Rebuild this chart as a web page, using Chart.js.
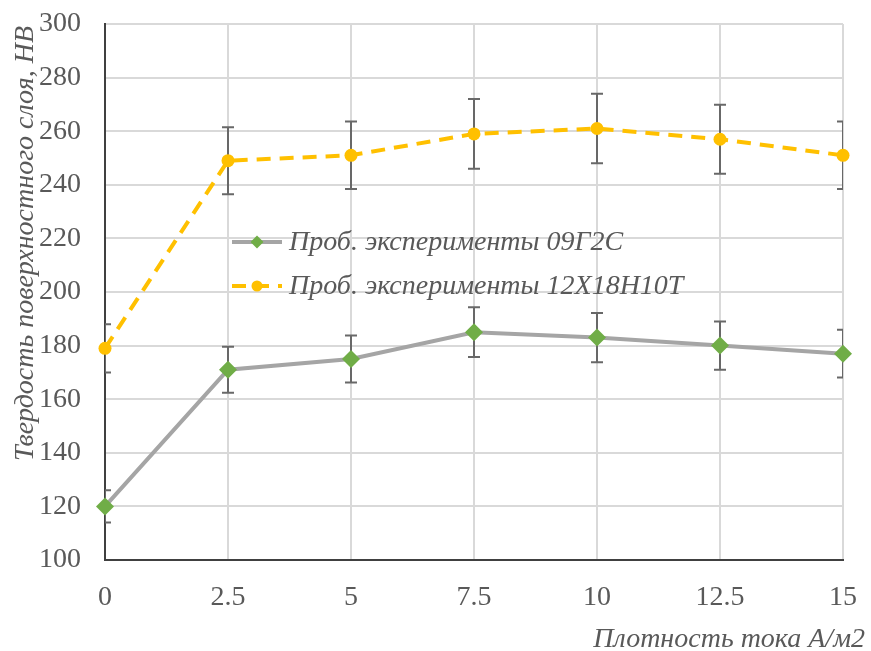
<!DOCTYPE html>
<html><head><meta charset="utf-8">
<script src="https://cdn.jsdelivr.net/npm/chart.js@4"></script>
<style>html,body{margin:0;padding:0;background:#fff;}#wrap{width:871px;height:651px;}</style>
</head><body><div id="wrap"><canvas id="c" width="871" height="651"></canvas></div>
<script>
const xValues = [0, 2.5, 5, 7.5, 10, 12.5, 15];
const steel09G2S = [120, 171, 175, 185, 183, 180, 177];
const steel12X18 = [179, 249, 251, 259, 261, 257, 251];
const err09G2S = [6, 8.6, 8.8, 9.3, 9.2, 9, 8.9];
const err12X18 = [9, 12.5, 12.6, 13, 13, 12.9, 12.6];
const seriesNames = ['Проб. эксперименты 09Г2С', 'Проб. эксперименты 12Х18Н10Т'];
const xTitle = 'Плотность тока А/м2';
const yTitle = 'Твердость поверхностного слоя, НВ';

const SERIF = '"Liberation Serif", "Times New Roman", serif';
const TXT = '#595959';

const errorBars = {
  id: 'errorBars',
  beforeDatasetsDraw(chart) {
    const ctx = chart.ctx, xs = chart.scales.x, ys = chart.scales.y, a = chart.chartArea;
    ctx.save();
    ctx.beginPath(); ctx.rect(a.left, a.top - 20, a.right - a.left, a.bottom - a.top + 40); ctx.clip();
    ctx.strokeStyle = '#686868'; ctx.lineWidth = 2;
    chart.data.datasets.forEach(ds => {
      ds.data.forEach((p, j) => {
        const e = ds.errors[j];
        const x = xs.getPixelForValue(p.x);
        const y1 = ys.getPixelForValue(p.y + e), y2 = ys.getPixelForValue(p.y - e);
        ctx.beginPath();
        ctx.moveTo(x, y1); ctx.lineTo(x, y2);
        ctx.moveTo(x - 6, y1); ctx.lineTo(x + 6, y1);
        ctx.moveTo(x - 6, y2); ctx.lineTo(x + 6, y2);
        ctx.stroke();
      });
    });
    ctx.restore();
  },
  afterDraw(chart) {
    const ctx = chart.ctx;
    ctx.save();
    const rows = [242, 286];
    chart.data.datasets.forEach((ds, i) => {
      const y = rows[i];
      ctx.strokeStyle = ds.borderColor; ctx.lineWidth = ds.borderWidth;
      ctx.setLineDash(ds.borderDash || []);
      ctx.beginPath(); ctx.moveTo(232, y); ctx.lineTo(282, y); ctx.stroke();
      ctx.setLineDash([]);
      ctx.fillStyle = ds.pointBackgroundColor;
      if (ds.pointStyle === 'rectRot') {
        const r = 6.5;
        ctx.beginPath(); ctx.moveTo(257, y - r); ctx.lineTo(257 + r, y); ctx.lineTo(257, y + r); ctx.lineTo(257 - r, y); ctx.closePath(); ctx.fill();
      } else {
        ctx.beginPath(); ctx.arc(257, y, 5.5, 0, Math.PI * 2); ctx.fill();
      }
      ctx.fillStyle = TXT; ctx.font = 'italic 28px ' + SERIF;
      ctx.textAlign = 'left'; ctx.textBaseline = 'middle';
      ctx.fillText(ds.label, 289, y + 1);
    });
    ctx.fillStyle = TXT; ctx.font = 'italic 28px ' + SERIF;
    ctx.textAlign = 'right'; ctx.textBaseline = 'alphabetic';
    ctx.fillText(xTitle, 865, 647);
    ctx.translate(33, 26); ctx.rotate(-Math.PI / 2);
    ctx.fillText(yTitle, 0, 0);
    ctx.restore();
  }
};

new Chart(document.getElementById('c'), {
  type: 'line',
  data: {
    datasets: [
      {
        label: seriesNames[0],
        data: xValues.map((x, i) => ({ x, y: steel09G2S[i] })),
        errors: err09G2S,
        borderColor: '#a5a5a5', borderWidth: 4,
        pointStyle: 'rectRot', pointRadius: 9,
        pointBackgroundColor: '#70ad47', pointBorderColor: '#70ad47', pointBorderWidth: 0,
        tension: 0, clip: false
      },
      {
        label: seriesNames[1],
        data: xValues.map((x, i) => ({ x, y: steel12X18[i] })),
        errors: err12X18,
        borderColor: '#ffc000', borderWidth: 4, borderDash: [14, 9],
        pointStyle: 'circle', pointRadius: 6.5,
        pointBackgroundColor: '#ffc000', pointBorderColor: '#ffc000', pointBorderWidth: 0,
        tension: 0, clip: false
      }
    ]
  },
  options: {
    responsive: false, animation: false, devicePixelRatio: 1,
    layout: { padding: { top: 24, right: 28, left: 0, bottom: 0 } },
    plugins: { legend: { display: false }, tooltip: { enabled: false } },
    scales: {
      x: {
        type: 'linear', min: 0, max: 15,
        afterFit(s) { s.height = 91; s.paddingLeft = 0; s.paddingRight = 0; },
        grid: { color: '#d9d9d9', lineWidth: 2, drawTicks: false },
        border: { color: '#404040', width: 2 },
        ticks: { stepSize: 2.5, padding: 21, color: TXT, font: { family: SERIF, size: 28 } }
      },
      y: {
        min: 100, max: 300,
        afterFit(s) { s.width = 105; s.paddingTop = 0; s.paddingBottom = 0; },
        grid: { color: '#d9d9d9', lineWidth: 2, drawTicks: false },
        border: { color: '#404040', width: 2 },
        ticks: { stepSize: 20, padding: 24, color: TXT, font: { family: SERIF, size: 28 } }
      }
    }
  },
  plugins: [errorBars]
});
</script>
</body></html>
